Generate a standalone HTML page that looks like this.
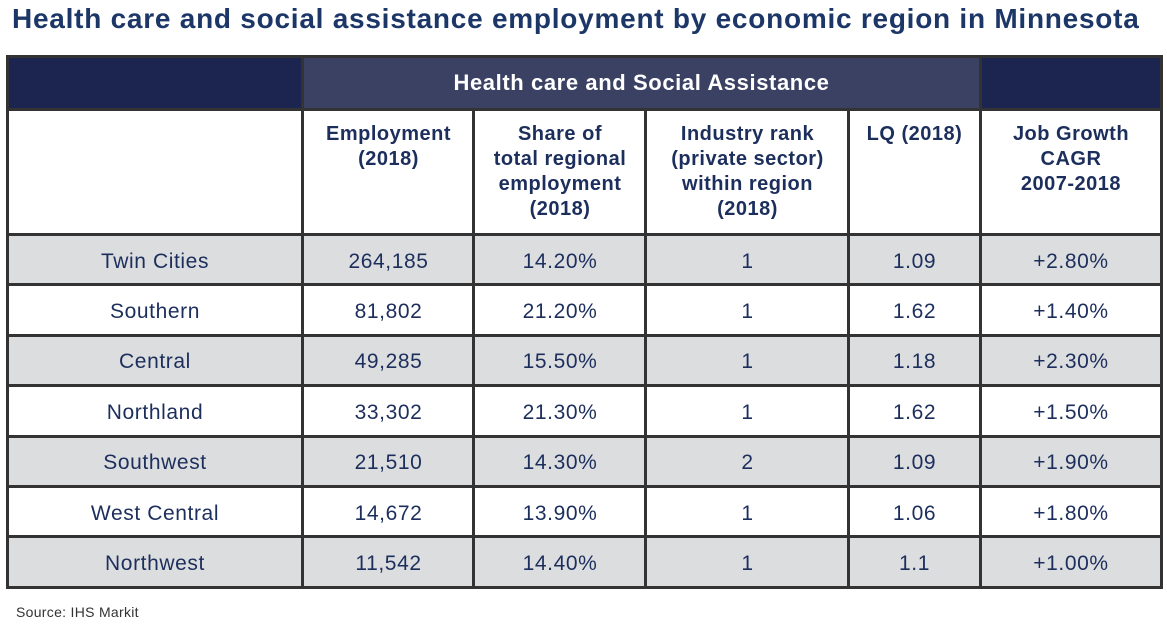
<!DOCTYPE html>
<html><head><meta charset="utf-8"><style>
body{margin:0;width:1167px;height:627px;background:#fff;position:relative;font-family:"Liberation Sans",sans-serif;overflow:hidden}
.t{position:absolute;left:12px;top:3px;font-size:28px;font-weight:bold;color:#1c3767;white-space:nowrap;letter-spacing:0.75px}
.c{position:absolute;box-sizing:border-box;display:flex;align-items:center;justify-content:center;text-align:center;color:#1c2e5c;font-size:21px;letter-spacing:0.6px}
.h{align-items:flex-start;font-weight:bold;font-size:20px;line-height:25px;padding-top:12px;color:#1c2e5c;letter-spacing:0.5px}
.src{position:absolute;left:16px;top:604px;font-size:14px;color:#333;letter-spacing:0.3px}
.vl{position:absolute;background:#333;width:3px}
.hl{position:absolute;background:#333;height:3px;left:7px;width:1156px}
</style></head><body>
<div class="t">Health care and social assistance employment by economic region in Minnesota</div>
<div class="c" style="left:7px;top:56px;width:296px;height:54px;background:#1b2550"></div>
<div class="c" style="left:303px;top:56px;width:677px;height:54px;background:#3a4163;color:#fff;font-weight:bold;font-size:22px">Health care and Social Assistance</div>
<div class="c" style="left:980px;top:56px;width:182px;height:54px;background:#1b2550"></div>

<div class="c h" style="left:303px;top:110px;width:171px;height:125px">Employment<br>(2018)</div>
<div class="c h" style="left:474px;top:110px;width:172px;height:125px">Share of<br>total regional<br>employment<br>(2018)</div>
<div class="c h" style="left:646px;top:110px;width:203px;height:125px">Industry rank<br>(private sector)<br>within region<br>(2018)</div>
<div class="c h" style="left:849px;top:110px;width:131px;height:125px">LQ (2018)</div>
<div class="c h" style="left:980px;top:110px;width:182px;height:125px">Job Growth<br>CAGR<br>2007-2018</div>

<div id="rows"></div>
<script>
var d=[["Twin Cities","264,185","14.20%","1","1.09","+2.80%"],["Southern","81,802","21.20%","1","1.62","+1.40%"],["Central","49,285","15.50%","1","1.18","+2.30%"],["Northland","33,302","21.30%","1","1.62","+1.50%"],["Southwest","21,510","14.30%","2","1.09","+1.90%"],["West Central","14,672","13.90%","1","1.06","+1.80%"],["Northwest","11,542","14.40%","1","1.1","+1.00%"]];
var xs=[7,303,474,646,849,980,1162],h="";
for(var i=0;i<7;i++){var y=235+i*50.4;var bg=i%2==0?"#dcdddf":"#fff";
h+='<div class="c" style="left:7px;top:'+y+'px;width:1155px;height:51px;background:'+bg+'"></div>';
for(var j=0;j<6;j++)h+='<div class="c" style="left:'+xs[j]+'px;top:'+(y+1)+'px;width:'+(xs[j+1]-xs[j])+'px;height:51px">'+d[i][j]+'</div>';}
for(var i=0;i<=8;i++){var y=i==0?108:233+(i-1)*50.4;h+='<div class="hl" style="top:'+y+'px"></div>';}
h+='<div class="hl" style="top:55px"></div>';
[6,301,979,1160].forEach(function(x){h+='<div class="vl" style="left:'+x+'px;top:55px;height:534px"></div>'});
[472,644,847].forEach(function(x){h+='<div class="vl" style="left:'+x+'px;top:108px;height:481px"></div>'});
document.getElementById("rows").innerHTML=h;
</script>
<div class="src">Source: IHS Markit</div>
</body></html>
